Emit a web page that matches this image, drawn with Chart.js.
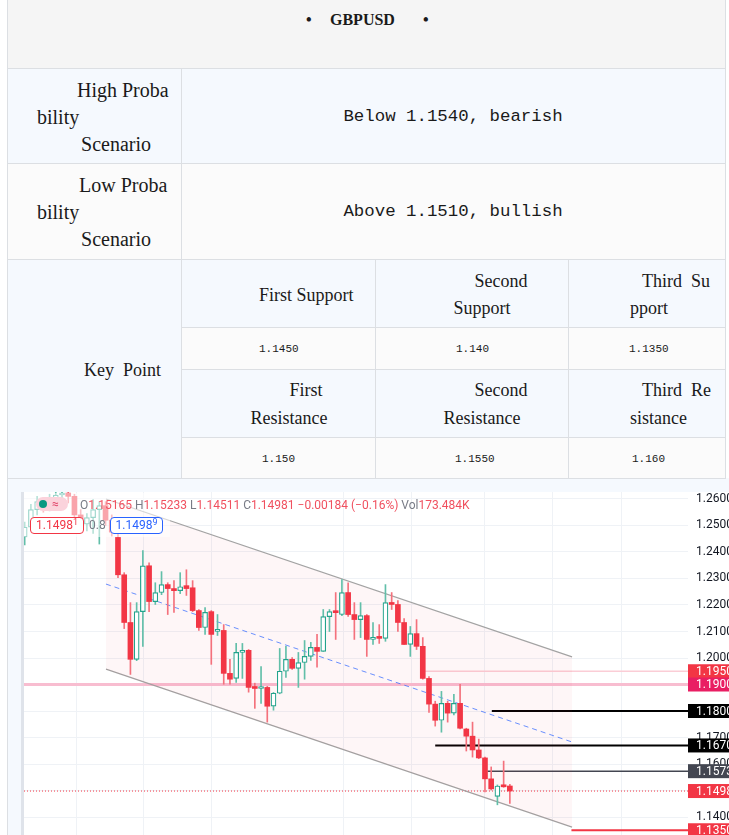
<!DOCTYPE html>
<html>
<head>
<meta charset="utf-8">
<title>GBPUSD</title>
<script src="https://cdn.jsdelivr.net/npm/chart.js@4.4.1/dist/chart.umd.min.js"></script>
<style>
  html, body { margin: 0; padding: 0; background: #fff; width: 729px; height: 835px; overflow: hidden; }
  #page { position: relative; width: 729px; height: 835px; font-family: "Liberation Serif", serif; color: #1a1a1a; }
  .bg { position: absolute; }
  .hl { position: absolute; height: 1px; background: #dcdfe3; }
  .vl { position: absolute; width: 1px; background: #dcdfe3; }
  .t { position: absolute; white-space: pre; line-height: 24px; height: 24px; font-size: 18px; }
  .lab { font-size: 20px; }
  .scen { font-family: "Liberation Mono", monospace; font-size: 17.4px; }
  .val { font-family: "Liberation Mono", monospace; font-size: 11px; }
  .c { transform: translateX(-50%); }
  .title { font-weight: bold; font-size: 16px; }
  #chartWrap { position: absolute; left: 21px; top: 492px; width: 708px; height: 343px; }
  .ov { position: absolute; font-family: Roboto, sans-serif; font-size: 12px; line-height: 14px; white-space: pre; }
  .k { color: #787b86; }
  .v { color: #f0505f; }
  .box { position: absolute; height: 15px; border: 1px solid; border-radius: 4px; background: #fff;
         font-family: Roboto, sans-serif; font-size: 12px; line-height: 15px; text-align: center; }
  .box sup { font-size: 9px; line-height: 0; vertical-align: 4px; }
</style>
</head>
<body>
<div id="page">
  <!-- cell backgrounds -->
  <div class="bg" style="left:7px;top:0;width:719px;height:68px;background:#f5f5f5"></div>
  <div class="bg" style="left:7px;top:68px;width:719px;height:95px;background:#f5f9fe"></div>
  <div class="bg" style="left:7px;top:163px;width:719px;height:96px;background:#fbfbfb"></div>
  <div class="bg" style="left:7px;top:259px;width:174px;height:219px;background:#f5f9fe"></div>
  <div class="bg" style="left:181px;top:259px;width:545px;height:68px;background:#f5f9fe"></div>
  <div class="bg" style="left:181px;top:327px;width:545px;height:42px;background:#fbfbfb"></div>
  <div class="bg" style="left:181px;top:369px;width:545px;height:68px;background:#f5f9fe"></div>
  <div class="bg" style="left:181px;top:437px;width:545px;height:41px;background:#fbfbfb"></div>
  <div class="bg" style="left:7px;top:478px;width:722px;height:14px;background:#f5f9fe"></div>
  <div class="bg" style="left:7px;top:478px;width:14px;height:357px;background:#f5f9fe"></div>

  <!-- borders -->
  <div class="hl" style="left:7px;top:68px;width:719px"></div>
  <div class="hl" style="left:7px;top:163px;width:719px"></div>
  <div class="hl" style="left:7px;top:259px;width:719px"></div>
  <div class="hl" style="left:181px;top:327px;width:545px"></div>
  <div class="hl" style="left:181px;top:369px;width:545px"></div>
  <div class="hl" style="left:181px;top:437px;width:545px"></div>
  <div class="hl" style="left:7px;top:478px;width:719px"></div>
  <div class="vl" style="left:7px;top:0;height:835px"></div>
  <div class="vl" style="left:725px;top:0;height:478px"></div>
  <div class="vl" style="left:181px;top:68px;height:410px"></div>
  <div class="vl" style="left:375px;top:259px;height:219px"></div>
  <div class="vl" style="left:568px;top:259px;height:219px"></div>

  <!-- title -->
  <div class="t title" style="left:306px;top:8px">•</div>
  <div class="t title" style="left:330px;top:8px">GBPUSD</div>
  <div class="t title" style="left:423px;top:8px">•</div>

  <!-- scenarios -->
  <div class="t lab" style="left:77px;top:78px">High Proba</div>
  <div class="t lab" style="left:37px;top:105px">bility</div>
  <div class="t lab c" style="left:116px;top:132px">Scenario</div>
  <div class="t scen c" style="left:453px;top:105px">Below 1.1540, bearish</div>

  <div class="t lab" style="left:79px;top:173px">Low Proba</div>
  <div class="t lab" style="left:37px;top:200px">bility</div>
  <div class="t lab c" style="left:116px;top:227px">Scenario</div>
  <div class="t scen c" style="left:453px;top:200px">Above 1.1510, bullish</div>

  <!-- key points -->
  <div class="t" style="left:84px;top:358px">Key  Point</div>

  <div class="t" style="left:259px;top:283px">First Support</div>
  <div class="t c" style="left:501px;top:269px">Second</div>
  <div class="t c" style="left:482px;top:296px">Support</div>
  <div class="t" style="left:642px;top:269px">Third  Su</div>
  <div class="t" style="left:630px;top:296px">pport</div>

  <div class="t val" style="left:259px;top:337px">1.1450</div>
  <div class="t val" style="left:456px;top:337px">1.140</div>
  <div class="t val" style="left:629px;top:337px">1.1350</div>

  <div class="t c" style="left:306px;top:378px">First</div>
  <div class="t c" style="left:289px;top:406px">Resistance</div>
  <div class="t c" style="left:501px;top:378px">Second</div>
  <div class="t c" style="left:482px;top:406px">Resistance</div>
  <div class="t" style="left:642px;top:378px">Third  Re</div>
  <div class="t" style="left:630px;top:406px">sistance</div>

  <div class="t val" style="left:262px;top:447px">1.150</div>
  <div class="t val" style="left:455px;top:447px">1.1550</div>
  <div class="t val" style="left:632px;top:447px">1.160</div>

  <!-- chart -->
  <div id="chartWrap"><canvas id="priceChart" width="708" height="343"></canvas></div>

  <!-- chart legend overlay -->
  <div class="bg" style="left:24px;top:493px;width:146px;height:44px;background:rgba(255,255,255,0.55)"></div>
  <div class="bg" style="left:36px;top:497px;width:32px;height:14px;border-radius:7px;background:#fbd3dc"></div>
  <div class="bg" style="left:39px;top:500px;width:8px;height:8px;border-radius:4px;background:#089981"></div>
  <div class="ov" style="left:52px;top:497px;color:#e0446a">≈</div>
  <div class="ov" style="left:80px;top:498px"><span class="k">O</span><span class="v">1.15165 </span><span class="k">H</span><span class="v">1.15233 </span><span class="k">L</span><span class="v">1.14511 </span><span class="k">C</span><span class="v">1.14981 −0.00184 (−0.16%) </span><span class="k">Vol</span><span class="v">173.484K</span></div>
  <div class="box" style="left:30px;top:517px;width:52px;border-color:#f23645;color:#f23645">1.1498<sup>1</sup></div>
  <div class="ov k" style="left:89px;top:518px">0.8</div>
  <div class="box" style="left:110px;top:517px;width:51px;border-color:#2962ff;color:#2962ff">1.1498<sup>9</sup></div>
</div>

<script>
// Daily candles (index = bar number from the left)
const opens  = [1.2457, 1.2494, 1.2560, 1.2590, 1.2566, 1.2604, 1.2615, 1.2622, 1.2610, 1.2540,
                1.2505, 1.2530, 1.2560, 1.2575, 1.2520, 1.2455, 1.2314, 1.2134, 1.1995, 1.2175,
                1.2348, 1.2213, 1.2247, 1.2277, 1.2262, 1.2254, 1.2273, 1.2265, 1.2179, 1.2115,
                1.2175, 1.2100, 1.2104, 1.1942, 1.1923, 1.2021, 1.2029, 1.1889, 1.1885, 1.1889,
                1.1818, 1.1867, 1.1950, 1.1995, 1.1961, 1.1983, 1.2006, 1.2040, 1.2025, 1.2156,
                1.2175, 1.2164, 1.2247, 1.2164, 1.2145, 1.2160, 1.2070, 1.2077, 1.2074, 1.2209,
                1.2202, 1.2134, 1.2051, 1.2092, 1.2044, 1.1923, 1.1826, 1.1765, 1.1829, 1.1792,
                1.1829, 1.1732, 1.1705, 1.1653, 1.1623, 1.1544, 1.1478, 1.1517, 1.1517];
const highs  = [1.2513, 1.2580, 1.2610, 1.2605, 1.2618, 1.2630, 1.2630, 1.2628, 1.2618, 1.2560,
                1.2545, 1.2598, 1.2590, 1.2590, 1.2540, 1.2490, 1.2322, 1.2209, 1.2209, 1.2405,
                1.2359, 1.2284, 1.2326, 1.2284, 1.2292, 1.2322, 1.2333, 1.2292, 1.2183, 1.2190,
                1.2179, 1.2164, 1.2126, 1.1995, 1.2055, 1.2055, 1.2032, 1.1905, 1.1968, 1.1893,
                1.1870, 1.2036, 1.2044, 1.2002, 1.2021, 1.2066, 1.2059, 1.2089, 1.2183, 1.2183,
                1.2247, 1.2296, 1.2284, 1.2209, 1.2209, 1.2164, 1.2134, 1.2126, 1.2277, 1.2247,
                1.2217, 1.2149, 1.2119, 1.2145, 1.2077, 1.1930, 1.1837, 1.1874, 1.1837, 1.1863,
                1.1901, 1.1735, 1.1758, 1.1694, 1.1626, 1.1589, 1.1521, 1.1611, 1.1523];
const lows   = [1.2427, 1.2480, 1.2540, 1.2550, 1.2555, 1.2590, 1.2588, 1.2585, 1.2525, 1.2490,
                1.2480, 1.2470, 1.2430, 1.2500, 1.2460, 1.2303, 1.2111, 1.1938, 1.1990, 1.2044,
                1.2175, 1.2202, 1.2239, 1.2164, 1.2172, 1.2243, 1.2236, 1.2175, 1.2104, 1.2089,
                1.1976, 1.2085, 1.1901, 1.1901, 1.1908, 1.1923, 1.1871, 1.1810, 1.1829, 1.1758,
                1.1803, 1.1865, 1.1927, 1.1957, 1.1889, 1.1920, 1.1991, 1.1965, 1.2025, 1.2100,
                1.2070, 1.2160, 1.2157, 1.2070, 1.2077, 1.2006, 1.2051, 1.2055, 1.2063, 1.2183,
                1.2100, 1.2051, 1.2006, 1.2032, 1.1920, 1.1795, 1.1743, 1.1720, 1.1758, 1.1785,
                1.1732, 1.1649, 1.1626, 1.1620, 1.1495, 1.1502, 1.1446, 1.1512, 1.1451];
const closes = [1.2494, 1.2560, 1.2590, 1.2570, 1.2604, 1.2615, 1.2622, 1.2610, 1.2540, 1.2505,
                1.2530, 1.2560, 1.2575, 1.2520, 1.2475, 1.2314, 1.2134, 1.1995, 1.2175, 1.2348,
                1.2213, 1.2247, 1.2277, 1.2262, 1.2254, 1.2269, 1.2262, 1.2179, 1.2115, 1.2172,
                1.2089, 1.2108, 1.1942, 1.1920, 1.2021, 1.2029, 1.1889, 1.1885, 1.1889, 1.1818,
                1.1867, 1.1950, 1.1995, 1.1961, 1.1983, 1.2006, 1.2040, 1.2025, 1.2156, 1.2175,
                1.2171, 1.2247, 1.2164, 1.2145, 1.2160, 1.2070, 1.2077, 1.2074, 1.2209, 1.2202,
                1.2134, 1.2051, 1.2092, 1.2044, 1.1923, 1.1826, 1.1765, 1.1829, 1.1792, 1.1829,
                1.1735, 1.1705, 1.1653, 1.1623, 1.1544, 1.1506, 1.1517, 1.1514, 1.1498];

// Descending channel drawn on the chart (bar index, price)
const channelUpper = [{ x: 13.07, y: 1.2600 }, { x: 88.0, y: 1.2004 }];
const channelMid   = [{ x: 13.07, y: 1.2279 }, { x: 88.0, y: 1.1683 }];
const channelLower = [{ x: 13.07, y: 1.1958 }, { x: 88.0, y: 1.1362 }];

// Horizontal levels and the bar index where each line starts (null = left edge)
const levelValues = [1.1950, 1.1900, 1.1800, 1.1670, 1.1573, 1.1498, 1.1350];
const levelFrom   = [64.2, null, 75.1, 66.0, 74.4, null, 87.9];

// Price axis labels and the vertical grid positions (bar index)
const yTickValues = [1.14, 1.15, 1.16, 1.17, 1.18, 1.19, 1.20, 1.21, 1.22, 1.23, 1.24, 1.25, 1.26];
const hiddenTicks = [1.15, 1.18, 1.19];
const xGridAt = [8.25, 19.1, 30.1, 51.2, 62.2, 73.9, 84.9, 96.0];

const xMin = -0.11, xMax = 106.64;
const yMin = 1.13321, yMax = 1.26264;

const UP = '#22a38c', UP_WICK = '#62bfa9';
const DOWN = '#f23645', DOWN_WICK = '#f4717c';

const levelStyles = [
  { line: '#fbcdd6', width: 1.5, badge: '#f23645' },
  { line: '#f8bdd0', width: 3, badge: '#e91e63' },
  { line: '#000000', width: 2, badge: '#000000' },
  { line: '#000000', width: 2, badge: '#000000' },
  { line: '#434651', width: 1.5, badge: '#434651' },
  { line: '#f23645', width: 1, badge: '#f23645', dash: [1, 2] },
  { line: '#f23645', width: 2, badge: '#f23645' }
];

const up = opens.map((o, i) => closes[i] >= o);
const bodyData = opens.map((o, i) => ({ x: i, y: [o, closes[i]] }));
const wickData = opens.map((o, i) => ({ x: i, y: [lows[i], highs[i]] }));

// white background + grey left edge
const backdrop = {
  id: 'backdrop',
  beforeDraw(chart) {
    const c = chart.ctx;
    c.save();
    c.fillStyle = '#ffffff';
    c.fillRect(0, 0, chart.width, chart.height);
    c.fillStyle = '#dfe3ea';
    c.fillRect(0, 0, 3, chart.height);
    c.restore();
  }
};

// horizontal price levels behind the candles, badges on the price scale
const levels = {
  id: 'levels',
  beforeDatasetsDraw(chart) {
    const c = chart.ctx, xs = chart.scales.x, ys = chart.scales.y, area = chart.chartArea;
    c.save();
    levelValues.forEach((v, i) => {
      const st = levelStyles[i];
      const y = ys.getPixelForValue(v);
      const x0 = levelFrom[i] === null ? area.left : xs.getPixelForValue(levelFrom[i]);
      c.strokeStyle = st.line;
      c.lineWidth = st.width;
      c.setLineDash(st.dash || []);
      c.beginPath();
      c.moveTo(x0, y);
      c.lineTo(area.right, y);
      c.stroke();
    });
    c.restore();
  },
  afterDraw(chart) {
    const c = chart.ctx, ys = chart.scales.y, area = chart.chartArea;
    c.save();
    c.font = '12px Roboto, sans-serif';
    c.textBaseline = 'middle';
    levelValues.forEach((v, i) => {
      const y = ys.getPixelForValue(v);
      c.fillStyle = levelStyles[i].badge;
      c.fillRect(area.right, y - 7, chart.width - area.right, 14);
      c.fillStyle = '#ffffff';
      c.fillText(v.toFixed(4), area.right + 8, y + 0.5);
    });
    c.restore();
  }
};

const ctx = document.getElementById('priceChart').getContext('2d');
const priceChart = new Chart(ctx, {
  type: 'bar',
  data: {
    datasets: [
      {
        label: 'body',
        data: bodyData,
        grouped: false,
        barThickness: 5,
        minBarLength: 2,
        borderSkipped: false,
        backgroundColor: up.map(u => u ? '#ffffff' : DOWN),
        borderColor: up.map(u => u ? UP : DOWN),
        borderWidth: up.map(u => u ? 1.2 : 0)
      },
      {
        label: 'wick',
        data: wickData,
        grouped: false,
        barThickness: 1,
        backgroundColor: up.map(u => u ? UP_WICK : DOWN_WICK),
        borderWidth: 0
      },
      {
        type: 'line',
        label: 'mid',
        data: channelMid,
        borderColor: 'rgba(41, 98, 255, 0.7)',
        borderDash: [5, 4],
        borderWidth: 1,
        pointRadius: 0,
        fill: false
      },
      {
        type: 'line',
        label: 'upper',
        data: channelUpper,
        borderColor: '#a3a3a3',
        borderWidth: 1.2,
        pointRadius: 0,
        fill: 4,
        backgroundColor: 'rgba(242, 54, 69, 0.045)'
      },
      {
        type: 'line',
        label: 'lower',
        data: channelLower,
        borderColor: '#a3a3a3',
        borderWidth: 1.2,
        pointRadius: 0,
        fill: false
      }
    ]
  },
  options: {
    responsive: false,
    animation: false,
    layout: { padding: { left: 3, right: 0, top: 0, bottom: 0 } },
    plugins: {
      legend: { display: false },
      tooltip: { enabled: false }
    },
    scales: {
      x: {
        type: 'linear',
        offset: false,
        min: xMin,
        max: xMax,
        afterBuildTicks: axis => { axis.ticks = xGridAt.map(v => ({ value: v })); },
        afterFit: axis => {
          axis.height = 0;
          axis.paddingLeft = 0; axis.paddingRight = 0;
          axis.paddingTop = 0; axis.paddingBottom = 0;
        },
        ticks: { display: false },
        grid: { color: '#eff2f6', drawTicks: false, offset: false },
        border: { display: false }
      },
      y: {
        position: 'right',
        min: yMin,
        max: yMax,
        afterBuildTicks: axis => { axis.ticks = yTickValues.map(v => ({ value: v })); },
        afterFit: axis => {
          axis.width = 41;
          axis.paddingTop = 0; axis.paddingBottom = 0;
          axis.paddingLeft = 0; axis.paddingRight = 0;
        },
        ticks: {
          padding: 8,
          color: '#131722',
          font: { family: 'Roboto', size: 12 },
          callback: v => hiddenTicks.some(h => Math.abs(h - v) < 1e-6) ? '' : v.toFixed(4)
        },
        grid: { color: '#eff2f6', drawTicks: false },
        border: { display: false }
      }
    }
  },
  plugins: [backdrop, levels]
});
</script>
</body>
</html>
